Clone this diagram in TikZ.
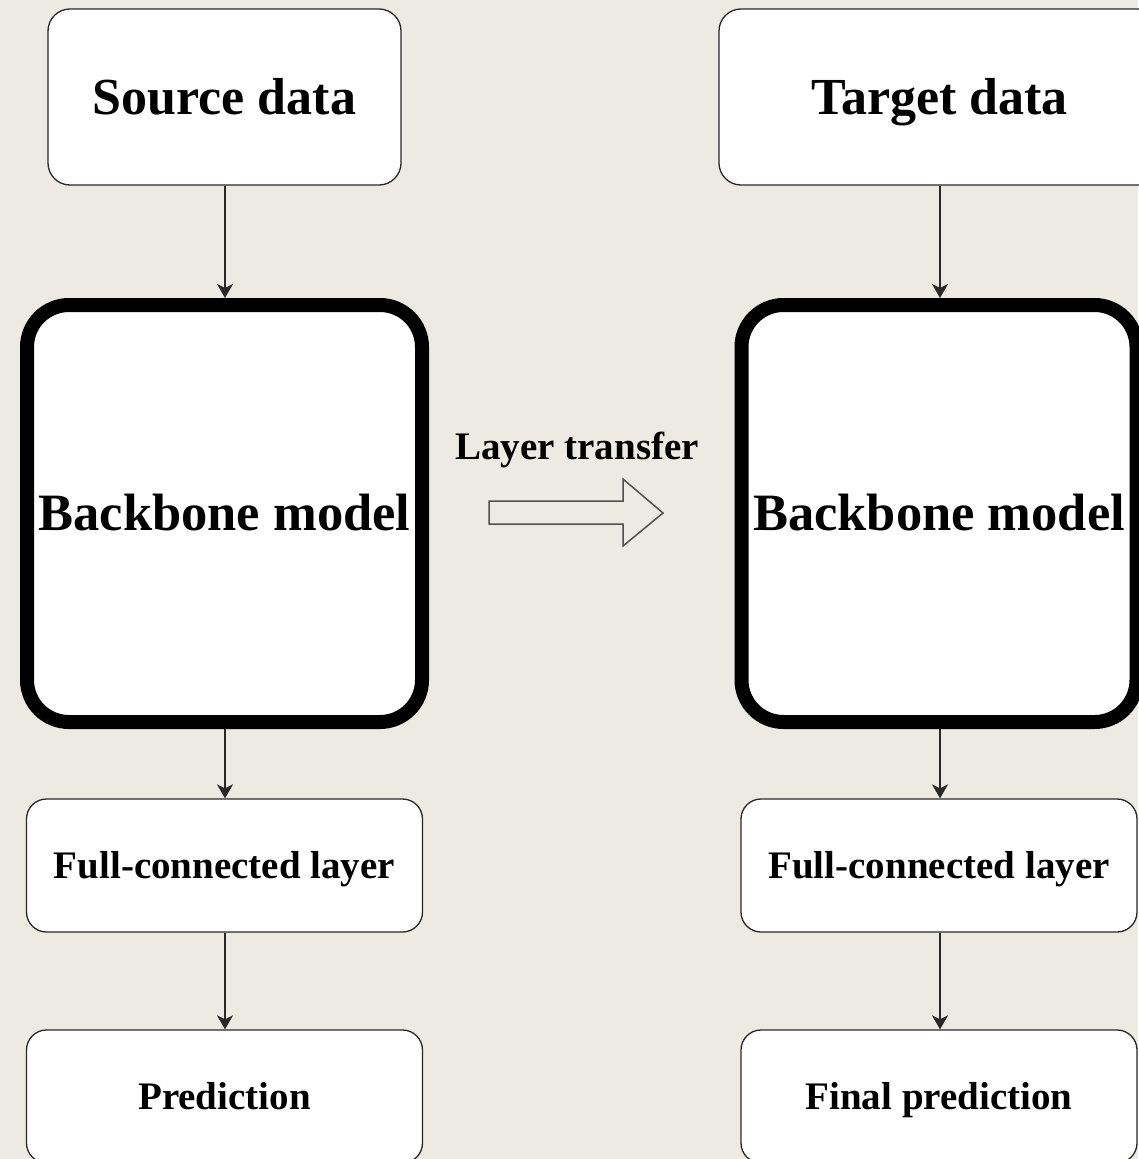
\documentclass[tikz,border=0pt]{standalone}
\usepackage{fontspec}
\setmainfont{Liberation Serif}
\usetikzlibrary{arrows.meta}

\definecolor{paper}{RGB}{237,234,227}
\definecolor{edge}{RGB}{40,40,40}
\definecolor{hollow}{RGB}{80,80,80}

\tikzset{
  % labels are centred on their capital height (0.66 of the font size)
  caps/.style={text height=#1, text depth=0pt},
  databox/.style={draw=edge, line width=1.3pt, fill=white, rounded corners=22pt,
    inner sep=0pt, minimum height=176pt, caps=34.3pt,
    font=\fontsize{52}{58}\selectfont\bfseries},
  smallbox/.style={draw=edge, line width=1.3pt, fill=white, rounded corners=20pt,
    inner sep=0pt, minimum width=396pt, minimum height=133pt, caps=25.7pt,
    font=\fontsize{39}{44}\selectfont\bfseries},
  modelbox/.style={draw=black, line width=14pt, fill=white, rounded corners=42pt,
    inner sep=0pt, minimum width=395pt, minimum height=417pt, caps=34.6pt,
    font=\fontsize{52.5}{58}\selectfont\bfseries},
  conn/.style={draw=edge, line width=1.4pt, -{Stealth[length=14pt,width=16pt,inset=4pt]}},
}

\begin{document}
\begin{tikzpicture}[x=1pt, y=-1pt]
  % page and backdrop
  \fill[paper] (0,0) rectangle (1138,1159);
  \useasboundingbox (0,0) rectangle (1138,1159);

  % columns the connectors run along
  \coordinate (colL) at (225,0);
  \coordinate (colR) at (940,0);

  % source side
  \node[databox, minimum width=353pt] (src) at (224.5,97) {Source data};
  \node[modelbox] (bbL) at (224.5,513.5) {Backbone model};
  \node[smallbox] (fcL) at (224.5,865.5) {Full-connected layer};
  \node[smallbox] (predL) at (224.5,1096.5) {Prediction};

  % target side
  \node[databox, minimum width=441pt] (tgt) at (939.5,97) {Target data};
  \node[modelbox] (bbR) at (939,513.5) {Backbone model};
  \node[smallbox] (fcR) at (939,865.5) {Full-connected layer};
  \node[smallbox] (predR) at (939,1096.5) {Final prediction};

  % flow arrows
  \draw[conn] (src.south -| colL) -- (bbL.north -| colL);
  \draw[conn] (bbL.south -| colL) -- (fcL.north -| colL);
  \draw[conn] (fcL.south -| colL) -- (predL.north -| colL);
  \draw[conn] (tgt.south -| colR) -- (bbR.north -| colR);
  \draw[conn] (bbR.south -| colR) -- (fcR.north -| colR);
  \draw[conn] (fcR.south -| colR) -- (predR.north -| colR);

  % transfer label and hollow block arrow
  \node[font=\fontsize{39}{44}\selectfont\bfseries, inner sep=0pt, caps=25.7pt] (xfer) at (577,447) {Layer transfer};
  \draw[hollow, line width=1.5pt, line join=miter]
    (489,501) -- (623,501) -- (623,479) -- (663,513) -- (623,546) -- (623,524) -- (489,524) -- cycle;
\end{tikzpicture}
\end{document}
